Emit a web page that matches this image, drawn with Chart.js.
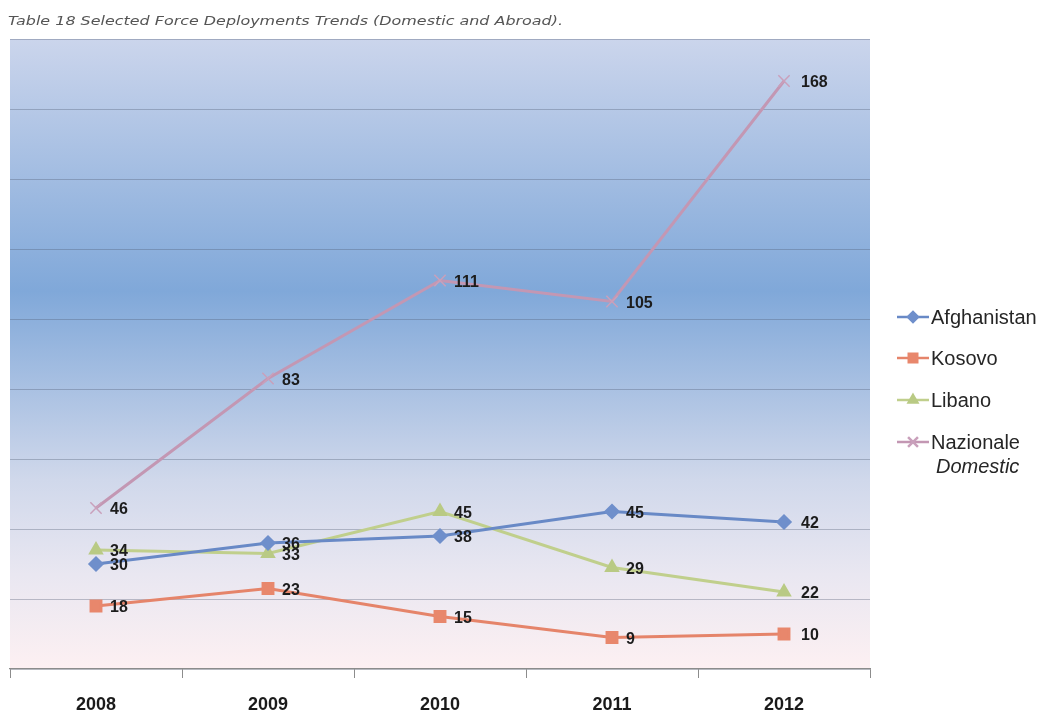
<!DOCTYPE html>
<html>
  <head>
    <title>Force Deployments Trends</title>
    <meta charset="UTF-8" />
    <script src="https://cdn.jsdelivr.net/npm/chart.js@4.4.0/dist/chart.umd.min.js"></script>
    <style>
      html, body { margin: 0; padding: 0; background: #ffffff; }
      #wrap { position: relative; width: 1053px; height: 715px; }
    </style>
  </head>
  <body>
    <div id="wrap"><canvas id="trendChart"></canvas></div>
    <script>
      const years = ["2008", "2009", "2010", "2011", "2012"];
      const afghanistan = [30, 36, 38, 45, 42];
      const kosovo = [18, 23, 15, 9, 10];
      const libano = [34, 33, 45, 29, 22];
      const nazionale = [46, 83, 111, 105, 168];
      const seriesNames = ["Afghanistan", "Kosovo", "Libano", "Nazionale"];
      const titleText = "Table 18 Selected Force Deployments Trends (Domestic and Abroad).";

      // plot background: blue band in the middle, fading to pink at the bottom
      const bgPlugin = {
        id: "bg",
        beforeDraw(chart) {
          const { ctx, chartArea: a } = chart;
          const g = ctx.createLinearGradient(0, a.top, 0, a.bottom);
          g.addColorStop(0, "#cbd5ec");
          g.addColorStop(0.4, "#80a8d9");
          g.addColorStop(0.7, "#d0d8eb");
          g.addColorStop(0.85, "#e9e7f1");
          g.addColorStop(1, "#fdf0f2");
          ctx.save();
          ctx.fillStyle = g;
          ctx.fillRect(a.left, a.top, a.right - a.left, a.bottom - a.top);
          ctx.restore();
        }
      };

      // value next to every point
      const labelPlugin = {
        id: "valueLabels",
        afterDatasetsDraw(chart) {
          const ctx = chart.ctx;
          ctx.save();
          ctx.font = "bold 16px 'Liberation Sans', sans-serif";
          ctx.fillStyle = "#1c1c1c";
          ctx.textBaseline = "middle";
          chart.data.datasets.forEach((ds, i) => {
            chart.getDatasetMeta(i).data.forEach((pt, j) => {
              const dx = j === 4 ? 17 : 14;
              ctx.fillText(String(ds.data[j]), pt.x + dx, pt.y + 2);
            });
          });
          ctx.restore();
        }
      };

      // title and legend on the right
      const sidePlugin = {
        id: "side",
        afterDraw(chart) {
          const ctx = chart.ctx;
          ctx.save();
          ctx.font = "italic 12px 'DejaVu Sans', sans-serif";
          ctx.fillStyle = "#555555";
          ctx.textBaseline = "alphabetic";
          const w = ctx.measureText(titleText).width;
          ctx.translate(8, 25);
          ctx.scale(555 / w, 1);
          ctx.fillText(titleText, 0, 0);
          ctx.restore();

          ctx.save();
          const ys = [317, 358, 400, 442];
          chart.data.datasets.forEach((ds, i) => {
            const y = ys[i];
            ctx.strokeStyle = ds.borderColor;
            ctx.lineWidth = 2.5;
            ctx.beginPath();
            ctx.moveTo(897, y);
            ctx.lineTo(929, y);
            ctx.stroke();
            ctx.fillStyle = ds.pointBackgroundColor;
            ctx.strokeStyle = ds.pointBorderColor;
            Chart.helpers.drawPoint(ctx, {
              pointStyle: ds.pointStyle,
              radius: ds.pointRadius - 1,
              borderWidth: ds.pointBorderWidth || 1
            }, 913, y);
            ctx.font = "20px 'Liberation Sans', sans-serif";
            ctx.fillStyle = "#262626";
            ctx.textBaseline = "middle";
            ctx.fillText(ds.label, 931, y + 1);
          });
          ctx.font = "italic 20px 'Liberation Sans', sans-serif";
          ctx.fillText("Domestic", 936, 467);
          ctx.restore();
        }
      };

      const data = {
        labels: years,
        datasets: [
          {
            label: seriesNames[0],
            data: afghanistan,
            borderColor: "#6889c6",
            backgroundColor: "#6889c6",
            pointBackgroundColor: "#6f8fcb",
            pointBorderColor: "#6f8fcb",
            pointStyle: "rectRot",
            pointRadius: 6,
            borderWidth: 3
          },
          {
            label: seriesNames[1],
            data: kosovo,
            borderColor: "#e5846a",
            backgroundColor: "#e5846a",
            pointBackgroundColor: "#e8876c",
            pointBorderColor: "#e8876c",
            pointStyle: "rect",
            pointRadius: 7,
            borderWidth: 3
          },
          {
            label: seriesNames[2],
            data: libano,
            borderColor: "#c0cf8c",
            backgroundColor: "#c0cf8c",
            pointBackgroundColor: "#b9ca84",
            pointBorderColor: "#b9ca84",
            pointStyle: "triangle",
            pointRadius: 6,
            borderWidth: 3
          },
          {
            label: seriesNames[3],
            data: nazionale,
            borderColor: "#c397b3",
            backgroundColor: "#c397b3",
            pointBackgroundColor: "#c9a0bb",
            pointBorderColor: "#c9a0bb",
            pointBorderWidth: 1.5,
            pointStyle: "crossRot",
            pointRadius: 8,
            borderWidth: 3
          }
        ]
      };

      const config = {
        type: "line",
        data: data,
        options: {
          responsive: false,
          animation: false,
          layout: { padding: { left: 10, right: 183, top: 39, bottom: 0 } },
          plugins: {
            legend: { display: false },
            tooltip: { enabled: false }
          },
          elements: { line: { tension: 0 } },
          scales: {
            y: {
              min: 0,
              max: 180,
              ticks: { stepSize: 20, display: false },
              border: { display: false },
              grid: { color: "rgba(80, 92, 115, 0.35)", lineWidth: 1, drawTicks: false },
              afterFit: (s) => { s.width = 0; }
            },
            x: {
              offset: true,
              border: { display: true, color: "#8c8c8c", width: 1.2 },
              grid: {
                offset: true,
                drawOnChartArea: false,
                color: "#8c8c8c",
                tickLength: 9
              },
              ticks: {
                color: "#1a1a1a",
                padding: 16,
                font: { family: "'Liberation Sans', sans-serif", size: 18, weight: "bold" }
              },
              afterFit: (s) => { s.height = 46; }
            }
          }
        },
        plugins: [bgPlugin, labelPlugin, sidePlugin]
      };

      const cv = document.getElementById("trendChart");
      cv.width = 1053;
      cv.height = 715;
      new Chart(cv, config);
    </script>
  </body>
</html>
